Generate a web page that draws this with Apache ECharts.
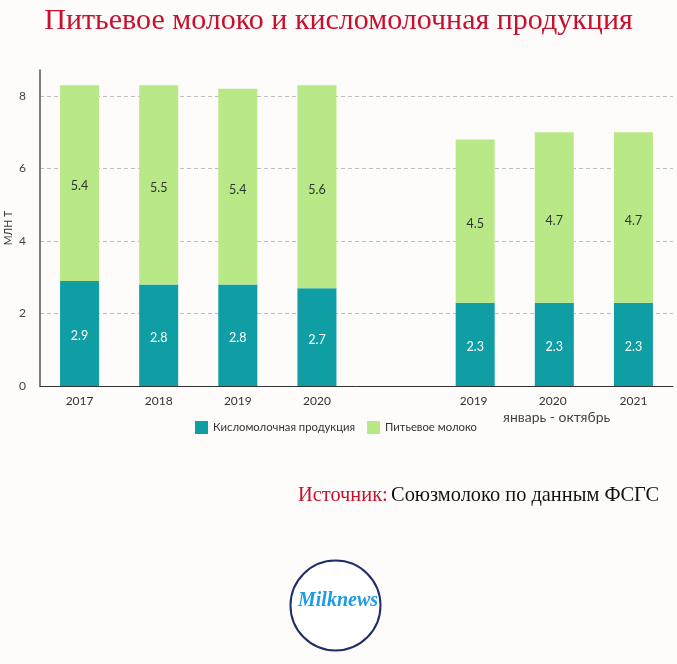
<!DOCTYPE html>
<html>
<head>
<meta charset="utf-8">
<style>html,body{margin:0;padding:0;background:#fdfcfa}#chart{width:677px;height:664px}</style>
<script src="https://cdn.jsdelivr.net/npm/echarts@6/dist/echarts.min.js"></script>
</head>
<body>
<div id="chart"></div>
<script>
const categories = ['2017', '2018', '2019', '2020', '', '2019 ', '2020 ', '2021'];
const fermented = [2.9, 2.8, 2.8, 2.7, null, 2.3, 2.3, 2.3];
const drinking = [5.4, 5.5, 5.4, 5.6, null, 4.5, 4.7, 4.7];
const yTicks = { min: 0, max: 8.72, interval: 2 };

const textFont = 'Lato, "Open Sans", sans-serif';
const serifFont = '"Liberation Serif", serif';
const chart = echarts.init(document.getElementById('chart'), null, { renderer: 'canvas' });

chart.setOption({
  backgroundColor: '#fdfcfa',
  animation: false,
  title: {
    text: 'Питьевое молоко и кисломолочная продукция',
    left: 'center',
    top: 1,
    textStyle: { fontFamily: serifFont, fontSize: 30, fontWeight: 'normal', color: '#c8102e' }
  },
  grid: { left: 40, right: 4, top: 70, bottom: 278, outerBoundsMode: 'none' },
  legend: {
    left: 195,
    top: 421,
    padding: 0,
    itemWidth: 13,
    itemHeight: 13,
    itemGap: 12,
    icon: 'rect',
    textStyle: { fontFamily: textFont, fontSize: 11.3, color: '#333' },
    data: ['Кисломолочная продукция', 'Питьевое молоко']
  },
  xAxis: {
    type: 'category',
    data: categories,
    axisLine: { lineStyle: { color: '#333', width: 1 } },
    axisTick: { show: false },
    axisLabel: { fontFamily: textFont, fontSize: 12, color: '#333', margin: 9, interval: 0 }
  },
  yAxis: {
    type: 'value',
    min: yTicks.min,
    max: yTicks.max,
    interval: yTicks.interval,
    name: 'МЛН Т',
    nameLocation: 'middle',
    nameGap: 26,
    nameMoveOverlap: false,
    nameTextStyle: { fontFamily: textFont, fontSize: 10.5, color: '#333' },
    axisLine: { show: true, lineStyle: { color: '#555', width: 1.5 } },
    axisTick: { show: false },
    axisLabel: { fontFamily: textFont, fontSize: 12, color: '#444', margin: 14, showMaxLabel: false },
    splitLine: { showMaxLine: false, lineStyle: { color: '#bdbdbd', type: [4, 3], width: 1 } }
  },
  series: [
    {
      name: 'Кисломолочная продукция',
      type: 'bar',
      stack: 'total',
      barWidth: 39,
      data: fermented,
      itemStyle: { color: '#0e9ea3' },
      label: { show: true, position: 'inside', offset: [0, 3], fontFamily: textFont, fontSize: 12.5, color: '#fff', formatter: p => p.value.toFixed(1) }
    },
    {
      name: 'Питьевое молоко',
      type: 'bar',
      stack: 'total',
      barWidth: 39,
      data: drinking,
      itemStyle: { color: '#b8e986' },
      label: { show: true, position: 'inside', offset: [0, 3], fontFamily: textFont, fontSize: 12.5, color: '#333', formatter: p => p.value.toFixed(1) }
    }
  ],
  graphic: [
    {
      type: 'text', left: 503, top: 410,
      style: { text: 'январь - октябрь', fontFamily: textFont, fontSize: 14, fill: '#444' }
    },
    {
      type: 'text', left: 298, top: 486,
      style: {
        text: '{a|Источник:} {b|Союзмолоко по данным ФСГС}',
        rich: {
          a: { fontFamily: serifFont, fontSize: 20.4, fill: '#c8102e' },
          b: { fontFamily: serifFont, fontSize: 20.4, fill: '#111' }
        }
      }
    },
    {
      type: 'circle',
      shape: { cx: 335.5, cy: 605.5, r: 45 },
      style: { fill: '#fff', stroke: '#1f2f66', lineWidth: 2 }
    },
    {
      type: 'text', left: 298, top: 591,
      style: { text: 'Milknews', fontFamily: serifFont, fontStyle: 'italic', fontWeight: 'bold', fontSize: 20, fill: '#1e9be8' }
    }
  ]
});
</script>
</body>
</html>
